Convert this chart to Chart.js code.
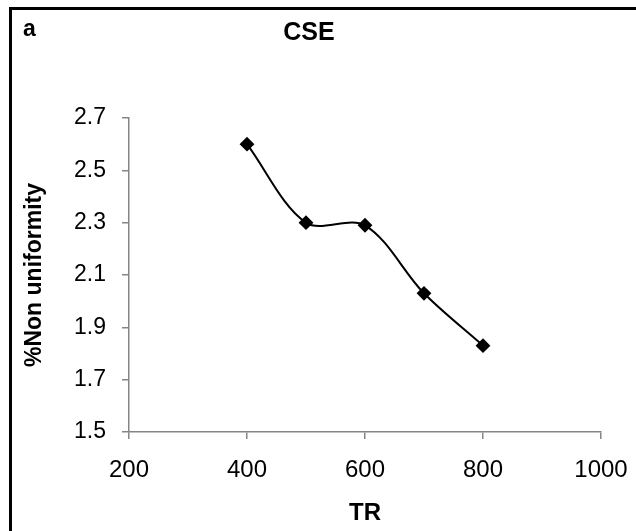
<!DOCTYPE html>
<html>
<head>
<meta charset="utf-8">
<script src="https://cdn.jsdelivr.net/npm/chart.js@4"></script>
<style>
  html, body { margin: 0; padding: 0; background: #fff; }
  #wrap { width: 636px; height: 531px; }
</style>
</head>
<body>
<div id="wrap"><canvas id="chart" width="636" height="531"></canvas></div>
<script>
// data
const trValues = [400, 500, 600, 700, 800];
const nonUniformity = [2.6, 2.3, 2.29, 2.03, 1.83];
const xTicks = [200, 400, 600, 800, 1000];
const yTicks = [1.5, 1.7, 1.9, 2.1, 2.3, 2.5, 2.7];

const AXIS_GREY = '#858585';
const FONT = 'Arial, "Liberation Sans", sans-serif';

// black frame on left/top plus the panel letter and title
const framePlugin = {
    id: 'frame',
    beforeDraw(chart) {
        const ctx = chart.ctx;
        ctx.save();
        ctx.fillStyle = '#fff';
        ctx.fillRect(0, 0, chart.width, chart.height);
        ctx.fillStyle = '#000';
        ctx.fillRect(9, 7, chart.width - 9, 3);
        ctx.fillRect(9, 7, 3, chart.height - 7);
        ctx.restore();
    },
    afterDraw(chart) {
        const ctx = chart.ctx;
        ctx.save();
        ctx.fillStyle = '#000';
        ctx.textBaseline = 'alphabetic';
        ctx.font = 'bold 23px ' + FONT;
        ctx.textAlign = 'left';
        ctx.fillText('a', 23, 36);
        ctx.textAlign = 'center';
        ctx.font = 'bold 25px ' + FONT;
        ctx.fillText('CSE', 309, 40);
        ctx.restore();
    }
};

new Chart(document.getElementById('chart'), {
    type: 'line',
    data: {
        datasets: [{
            data: trValues.map((x, i) => ({ x: x, y: nonUniformity[i] })),
            borderColor: '#000',
            borderWidth: 2,
            backgroundColor: '#000',
            pointStyle: 'rectRot',
            pointRadius: 6,
            pointBackgroundColor: '#000',
            pointBorderColor: '#000',
            tension: 0.33,
            fill: false
        }]
    },
    options: {
        responsive: false,
        animation: false,
        layout: { padding: { top: 118, right: 35, left: 0, bottom: 0 } },
        plugins: {
            legend: { display: false },
            tooltip: { enabled: false }
        },
        scales: {
            x: {
                type: 'linear',
                min: 200,
                max: 1000,
                afterBuildTicks: s => { s.ticks = xTicks.map(v => ({ value: v })); },
                afterFit: s => {
                    s.height = 99;
                    s.paddingLeft = 0;
                    s.paddingRight = 0;
                },
                grid: { drawOnChartArea: false, drawTicks: true, tickLength: 7, color: AXIS_GREY, lineWidth: 1.5 },
                border: { color: AXIS_GREY, width: 1.5 },
                ticks: {
                    color: '#000',
                    padding: 17,
                    font: { family: FONT, size: 24 },
                    callback: v => String(v)
                },
                title: {
                    display: true,
                    text: 'TR',
                    color: '#000',
                    font: { family: FONT, size: 24, weight: 'bold' },
                    padding: { top: 0, bottom: 3 }
                }
            },
            y: {
                min: 1.5,
                max: 2.7,
                afterBuildTicks: s => { s.ticks = yTicks.map(v => ({ value: v })); },
                afterFit: s => { s.width = 129; },
                grid: { drawOnChartArea: false, drawTicks: true, tickLength: 7, color: AXIS_GREY, lineWidth: 1.5 },
                border: { color: AXIS_GREY, width: 1.5 },
                ticks: {
                    color: '#000',
                    padding: 16,
                    font: { family: FONT, size: 23 },
                    callback: v => Number(v).toFixed(1)
                },
                title: {
                    display: true,
                    text: '%Non uniformity',
                    color: '#000',
                    font: { family: FONT, size: 23, weight: 'bold' },
                    padding: { top: 21, bottom: 0 }
                }
            }
        }
    },
    plugins: [framePlugin]
});
</script>
</body>
</html>
